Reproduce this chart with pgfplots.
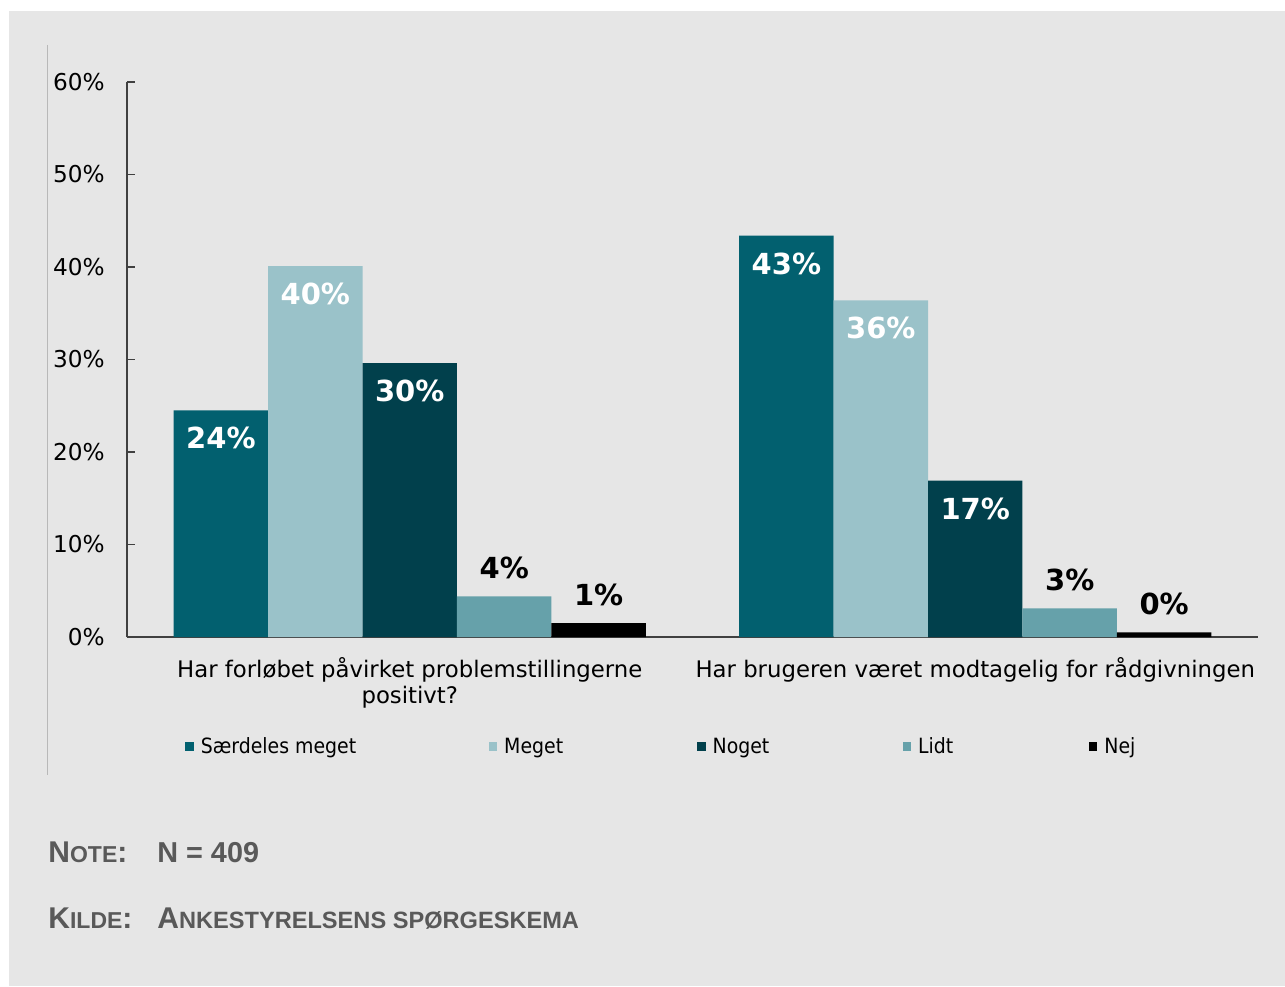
\documentclass[border=0pt]{standalone}
\usepackage{pgfplots}
\pgfplotsset{compat=1.18}
\usepackage{fontspec}
\setmainfont{DejaVu Sans}
\newfontfamily\legfont{DejaVu Sans Condensed}
\newfontfamily\notefont{Liberation Sans}
\definecolor{bgray}{HTML}{E6E6E6}
\definecolor{cA}{HTML}{02606F}
\definecolor{cB}{HTML}{9AC2C9}
\definecolor{cC}{HTML}{01404C}
\definecolor{cD}{HTML}{66A1AA}
\definecolor{axgray}{HTML}{404040}
\definecolor{notegray}{HTML}{595959}

\begin{document}
\begin{tikzpicture}
% 1px = 0.5pt, origin at the axis corner
\path[use as bounding box] (-63.5pt,-174.5pt) rectangle (579pt,318.5pt);
\fill[white] (-63.5pt,-174.5pt) rectangle (579pt,318.5pt);
\fill[bgray] (-59pt,-174.5pt) rectangle (579pt,313pt);
\draw[black!28, line width=0.5pt] (-39.5pt,296pt) -- (-39.5pt,-69pt);

\begin{axis}[
  scale only axis, width=565.5pt, height=277.5pt,
  xmin=-0.5, xmax=1.5, ymin=0, ymax=60,
  axis lines=left,
  axis line style={-, axgray, line width=0.75pt},
  ybar=0pt, bar width=0.167,
  legend image code/.code={\fill[#1] (0pt,-2.2pt) rectangle (4.2pt,2.2pt);},
  ytick={0,10,...,60},
  yticklabels={0\%,10\%,20\%,30\%,40\%,50\%,60\%},
  tick align=inside, major tick length=4pt,
  ytick style={axgray, line width=0.75pt},
  yticklabel style={font=\fontsize{11.6}{13}\selectfont, anchor=east, inner sep=0pt, xshift=-11pt},
  xtick={0,1}, xtick style={draw=none},
  xticklabels={{Har forløbet påvirket problemstillingerne\\positivt?},{Har brugeren været modtagelig for rådgivningen}},
  xticklabel style={font=\fontsize{11.4}{13}\selectfont, align=center, anchor=north, inner sep=0pt, yshift=-10pt},
  point meta=explicit symbolic,
  nodes near coords,
  legend columns=5,
  legend style={draw=none, fill=none, at={(0.0513,-0.198)}, anchor=west,
    font=\legfont\fontsize{10.5}{12}\selectfont, column sep=0pt, inner sep=0pt,
    nodes={inner sep=0pt}},
]
\addplot[fill=cA, draw=none, every node near coord/.append style={white, anchor=center, yshift=-14pt, font=\bfseries\fontsize{14.5}{16}\selectfont}]
  coordinates {(0,24.5) [24\%] (1,43.4) [43\%]};
\addlegendentry{\makebox[147.5pt][l]{\hspace{3.5pt}Særdeles meget}}
\addplot[fill=cB, draw=none, every node near coord/.append style={white, anchor=center, yshift=-14pt, font=\bfseries\fontsize{14.5}{16}\selectfont}]
  coordinates {(0,40.1) [40\%] (1,36.4) [36\%]};
\addlegendentry{\makebox[100pt][l]{\hspace{3.5pt}Meget}}
\addplot[fill=cC, draw=none, every node near coord/.append style={white, anchor=center, yshift=-14pt, font=\bfseries\fontsize{14.5}{16}\selectfont}]
  coordinates {(0,29.6) [30\%] (1,16.9) [17\%]};
\addlegendentry{\makebox[98.5pt][l]{\hspace{3.5pt}Noget}}
\addplot[fill=cD, draw=none, every node near coord/.append style={black, anchor=center, yshift=14pt, font=\bfseries\fontsize{14.5}{16}\selectfont}]
  coordinates {(0,4.4) [4\%] (1,3.1) [3\%]};
\addlegendentry{\makebox[89pt][l]{\hspace{3.5pt}Lidt}}
\addplot[fill=black, draw=none, every node near coord/.append style={black, anchor=center, yshift=14pt, font=\bfseries\fontsize{14.5}{16}\selectfont}]
  coordinates {(0,1.5) [1\%] (1,0.5) [0\%]};
\addlegendentry{\hspace{3.5pt}Nej}
\end{axis}

\begin{scope}[every node/.style={anchor=base west, inner sep=0pt, text=notegray,
    font=\notefont\bfseries\fontsize{15}{18}\selectfont}]
\node at (-39.5pt,-112.5pt) {N{\fontsize{11.5}{14}\selectfont OTE}:};
\node at (15pt,-112.5pt) {\fontsize{14.4}{18}\selectfont N = 409};
\node at (-39.5pt,-145.5pt) {K{\fontsize{11.5}{14}\selectfont ILDE}:};
\node at (15pt,-145.5pt) {A{\fontsize{11.8}{14}\selectfont NKESTYRELSENS SPØRGESKEMA}};
\end{scope}
\end{tikzpicture}
\end{document}
